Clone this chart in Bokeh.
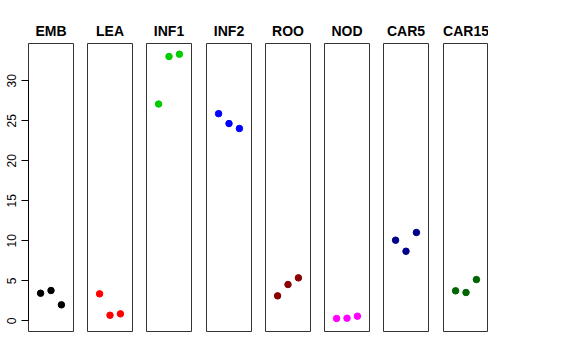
from bokeh.plotting import figure
from bokeh.layouts import row
from bokeh.models import Range1d, FixedTicker
from bokeh.embed import file_html
from bokeh.resources import INLINE

categories = ["EMB", "LEA", "INF1", "INF2", "ROO", "NOD", "CAR5", "CAR15"]
xpos = [1, 2, 3]
emb = [3.45, 3.79, 2.0]
lea = [3.37, 0.70, 0.87]
inf1 = [27.1, 33.04, 33.33]
inf2 = [25.9, 24.66, 24.04]
roo = [3.12, 4.54, 5.37]
nod = [0.29, 0.33, 0.58]
car5 = [10.08, 8.70, 11.04]
car15 = [3.75, 3.54, 5.16]
series = [emb, lea, inf1, inf2, roo, nod, car5, car15]
colors = ["black", "red", "#00CD00", "blue", "#8B0000", "magenta", "#00008B", "#006400"]
yticks = [0, 5, 10, 15, 20, 25, 30]

gaps = [14, 14, 15, 14, 14, 14, 15, 0]
figs = []
for i, (cat, vals, col) in enumerate(zip(categories, series, colors)):
    first = i == 0
    p = figure(frame_width=45, frame_height=288,
               x_range=Range1d(-0.16, 4.16), y_range=Range1d(-4/3, 104/3),
               output_backend="svg", toolbar_location=None,
               x_axis_location=None,
               y_axis_location="left" if first else None,
               min_border_left=28 if first else 0,
               min_border_right=gaps[i], min_border_top=43, min_border_bottom=10,
               title=cat)
    p.grid.visible = False
    p.outline_line_color = "#333333"
    p.outline_line_width = 1
    p.background_fill_color = "white"
    p.border_fill_color = "white"
    p.title.text = cat
    p.title.align = "center"
    p.title.text_font = "Liberation Sans"
    p.title.text_font_style = "bold"
    p.title.text_font_size = "14px"
    p.title.text_color = "black"
    p.title.standoff = 9
    if first:
        ax = p.yaxis[0]
        ax.ticker = FixedTicker(ticks=yticks)
        ax.bounds = (0, 30)
        ax.minor_tick_line_color = None
        ax.major_tick_out = 7
        ax.major_tick_in = 0
        ax.major_label_standoff = 5
        ax.major_label_orientation = "parallel"
        ax.major_label_text_font = "Liberation Sans"
        ax.major_label_text_font_size = "12px"
        ax.major_label_text_color = "black"
        ax.axis_line_color = "black"
        ax.major_tick_line_color = "black"
    p.scatter(xpos, vals, size=6.5, color=col)
    figs.append(p)

layout = row(figs, spacing=0)
open("out.html", "w").write(file_html(layout, INLINE))
